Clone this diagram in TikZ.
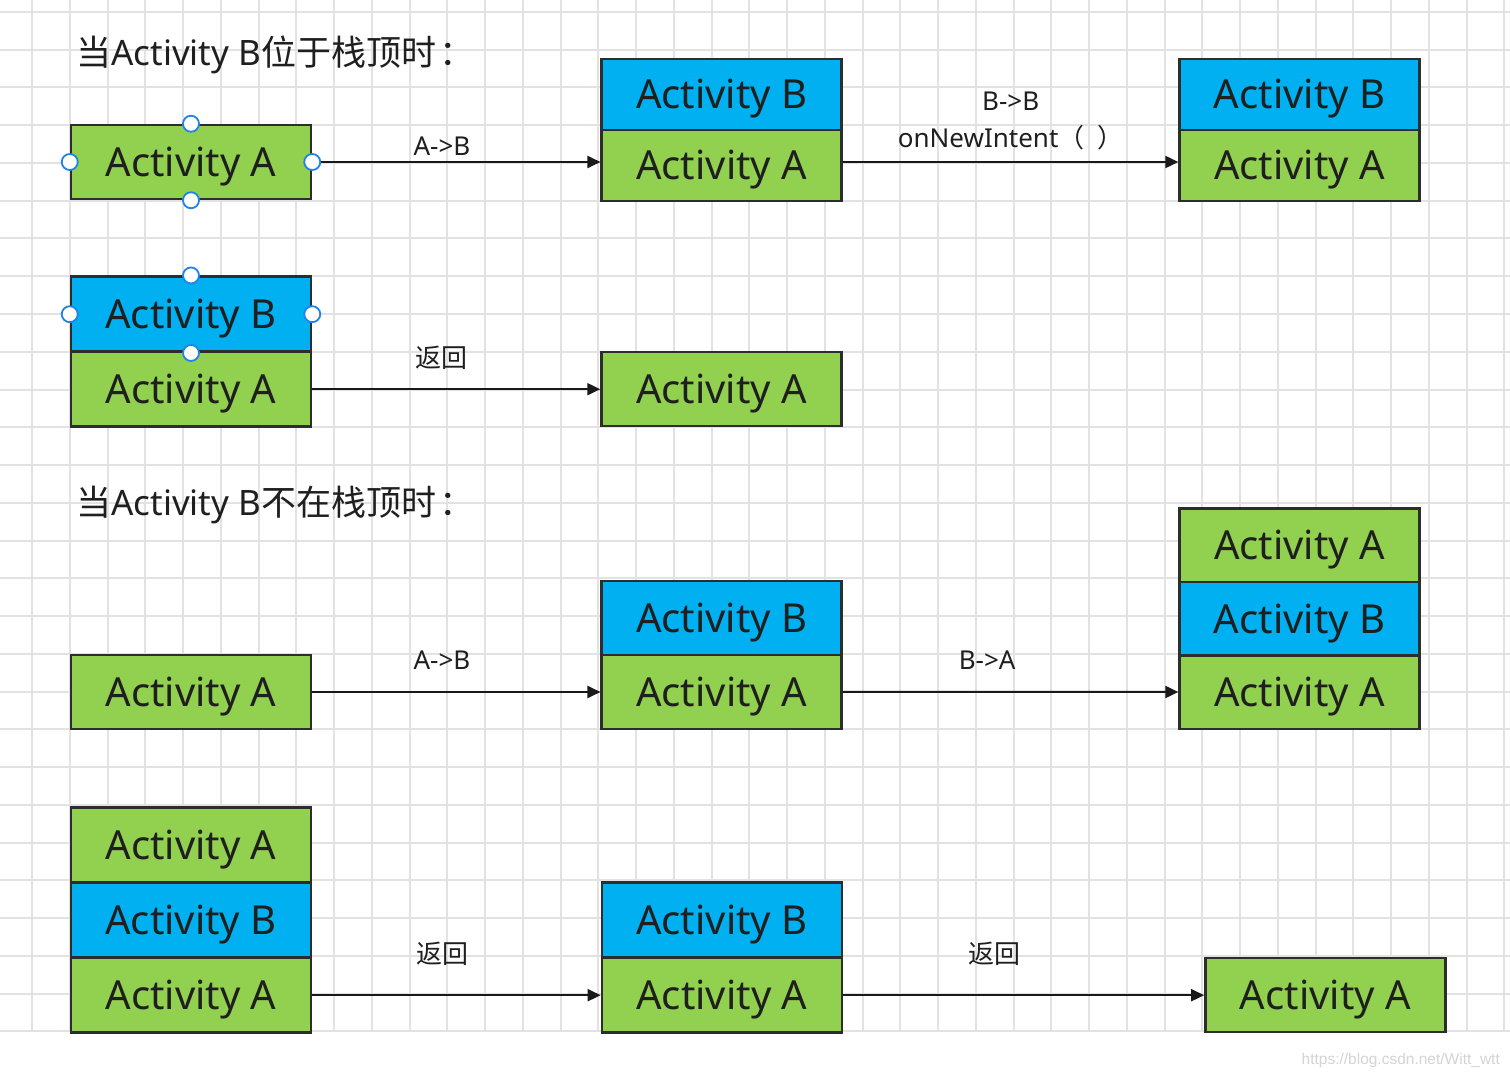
\documentclass[tikz,border=0pt]{standalone}
\usepackage{fontspec}
\setmainfont{Noto Sans}
\newfontfamily\cjk{Noto Sans CJK SC}
\newfontfamily\wmfont{Liberation Sans}
\usepackage{tikz}
\usetikzlibrary{matrix, positioning, arrows.meta}
\definecolor{actgreen}{RGB}{146,208,80}
\definecolor{actblue}{RGB}{0,176,240}
\definecolor{boxline}{RGB}{45,45,45}
\definecolor{gridgrey}{RGB}{226,226,226}
\definecolor{handleblue}{RGB}{30,132,232}
\definecolor{wmgrey}{RGB}{212,212,212}
\newcommand\actfont{\fontsize{40}{48}\selectfont}
\newcommand\lblfont{\fontsize{26}{37}\selectfont}
\newcommand\titlefont{\fontsize{35}{42}\selectfont}
\tikzset{
	act/.style={rectangle, draw=boxline, line width=2.5pt, minimum width=240pt, minimum height=74pt, inner sep=0pt, font=\actfont, text=black!88, text height=29pt, text depth=0pt},
	A/.style={fill=actgreen},
	B/.style={fill=actblue},
	stack/.style={
	matrix of nodes,
	row sep=-2.5pt,
	inner sep=0pt,
	nodes={act, minimum height=#1}
	},
	stack/.default=74pt,
	flow/.style={line width=2pt, black!90, -{Triangle[length=13pt,width=12pt]}},
	lbl/.style={font=\lblfont, text=black!88, inner sep=0pt},
	title/.style={font=\titlefont, text=black!88, inner sep=0pt, anchor=west},
	handle/.style={circle, draw=handleblue, fill=white, line width=1.8pt, minimum size=16pt, inner sep=0pt},
	gridline/.style={gridgrey, line width=2pt},
}

\begin{document}
\begin{tikzpicture}[x=1pt, y=-1pt]
			\useasboundingbox[fill=white] (0,0) rectangle (1510,1078);
			% background grid
			\foreach \gx in {0,...,39} \draw[gridline] ({32+37.75*\gx},0) -- ({32+37.75*\gx},1031);
			\foreach \gy in {0,...,27} \draw[gridline] (0,{12+37.75*\gy}) -- (1510,{12+37.75*\gy});

			\node[title] (t1) at (76,55) {{\cjk 当}Activity B{\cjk 位于栈顶时\kern0.1em：}};
			\node[title] (t2) at (76,505) {{\cjk 当}Activity B{\cjk 不在栈顶时\kern0.1em：}};

			% B on top
			\node[act, A] (r1a) at (191,162) {Activity A};
			\matrix[stack=71pt, right=288pt of r1a.south east, anchor=south west, yshift=-2pt] (r1m)
			{
			|[B]| Activity B \\
			|[A]| Activity A \\
			};
			\matrix[stack=71pt, right=335pt of r1m.south east, anchor=south west] (r1r)
			{
			|[B]| Activity B \\
			|[A]| Activity A \\
			};
			\path[draw,flow] (r1a.east) -- (r1a.east -| r1m-2-1.west) node[lbl, pos=0.45, yshift=16pt] (l1) {A->B};
			\path[draw,flow] (r1a.east -| r1m-2-1.east) -- (r1a.east -| r1r-2-1.west) node[lbl, align=center, pos=0.5, yshift=41pt] (l2) {B->B\\onNewIntent{\cjk（\hspace{0.5em}）}};

			\matrix[stack=75pt, below=75pt of r1a] (r2m)
			{
			|[B]| Activity B \\
			|[A]| Activity A \\
			};
			\node[act, A, right=288pt of r2m-2-1] (r2a) {Activity A};
			\path[draw,flow] (r2m-2-1) -- (r2a) node[lbl, pos=0.45, yshift=31pt] (l3) {\cjk 返回};

			% B not on top
			\node[act, A] (r3a) at (191,692) {Activity A};
			\matrix[stack, right=288pt of r3a.south east, anchor=south west] (r3m)
			{
			|[B]| Activity B \\
			|[A]| Activity A \\
			};
			\matrix[stack=73.5pt, right=335pt of r3m.south east, anchor=south west] (r3r)
			{
			|[A]| Activity A \\
			|[B]| Activity B \\
			|[A]| Activity A \\
			};
			\path[draw,flow] (r3a.east) -- (r3a.east -| r3m-2-1.west) node[lbl, pos=0.45, yshift=31.5pt] (l4) {A->B};
			\path[draw,flow] (r3m-2-1) -- (r3r-3-1) node[lbl, pos=0.43, yshift=31.5pt] (l5) {B->A};

			\matrix[stack=75pt, below=76pt of r3a] (r4m)
			{
			|[A]| Activity A \\
			|[B]| Activity B \\
			|[A]| Activity A \\
			};
			\matrix[stack=75pt, right=288pt of r4m.south east, anchor=south west] (r4n)
			{
			|[B]| Activity B \\
			|[A]| Activity A \\
			};
			\node[act, A, right=361pt of r4n-2-1] (r4a) {Activity A};
			\path[draw,flow] (r4m-3-1) -- (r4n-2-1) node[lbl, pos=0.45, yshift=41.5pt] (l6) {\cjk 返回};
			\path[draw,flow] (r4n-2-1) -- (r4a) node[lbl, pos=0.42, yshift=41.5pt] (l7) {\cjk 返回};

			% selection handles
			\foreach \side in {north,south,east,west} \node[handle] (ha-\side) at (r1a.\side) {};
			\foreach \side in {north,south,east,west} \node[handle] (hb-\side) at (r2m-1-1.\side) {};

			\node[font=\wmfont\fontsize{15.5}{18}\selectfont, text=wmgrey, anchor=east, inner sep=0pt] (wm) at (1500,1060) {https://blog.csdn.net/Witt\_wtt};
		\end{tikzpicture}
\end{document}
